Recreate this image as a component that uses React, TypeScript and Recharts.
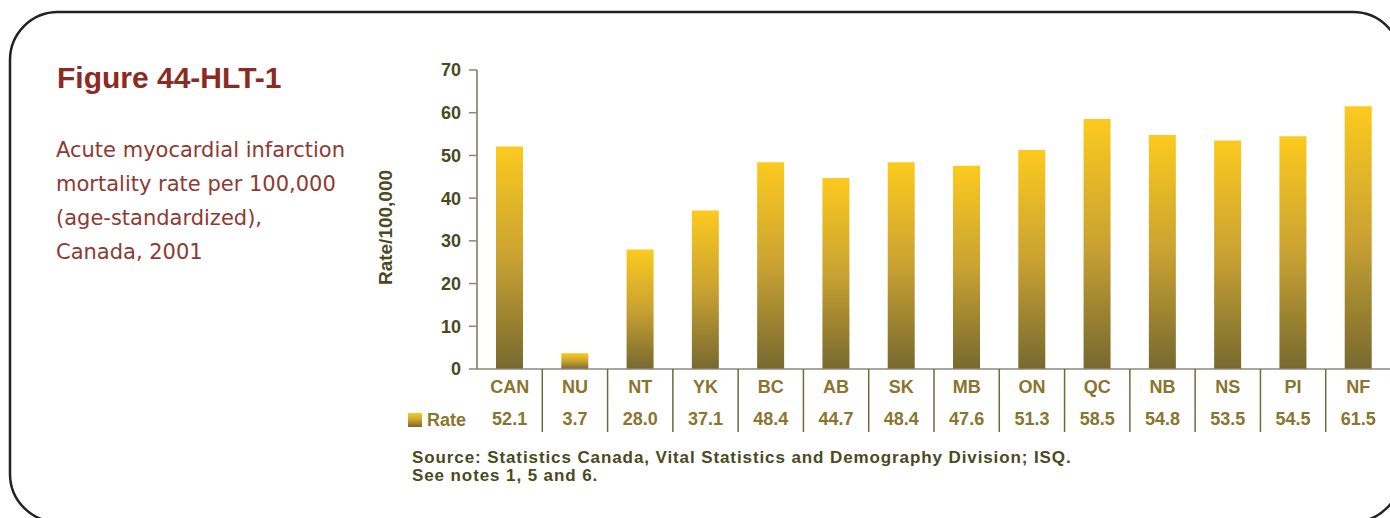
import React from 'react'
import { Bar, BarChart, Legend, XAxis, YAxis } from 'recharts'

// provinces / territories and the age-standardized rate per 100,000
const regions = ['CAN', 'NU', 'NT', 'YK', 'BC', 'AB', 'SK', 'MB', 'ON', 'QC', 'NB', 'NS', 'PI', 'NF']
const rates = [52.1, 3.7, 28.0, 37.1, 48.4, 44.7, 48.4, 47.6, 51.3, 58.5, 54.8, 53.5, 54.5, 61.5]
const yTicks = [0, 10, 20, 30, 40, 50, 60, 70]
const subtitleLines = [
  'Acute myocardial infarction',
  'mortality rate per 100,000',
  '(age-standardized),',
  'Canada, 2001'
]
const sourceLines = [
  'Source: Statistics Canada, Vital Statistics and Demography Division; ISQ.',
  'See notes 1, 5 and 6.'
]

const data = regions.map((region, i) => ({ region, rate: rates[i] }))

const W = 1390
const H = 518
const Y_AXIS_W = 60
const PLOT_LEFT = 477
const X_AXIS_H = 63
const MARGIN = { top: 70, right: -1, bottom: 149 - X_AXIS_H, left: PLOT_LEFT - Y_AXIS_W }
const BAND = (W - PLOT_LEFT - MARGIN.right) / regions.length

const BOLD = '"Liberation Sans", Arial, sans-serif'
const GOLD = '#8a742e'
const OLIVE = '#4a4a1e'
const RED = '#8b2b24'

const TableTick = (props: any) => {
  const { x, y, payload } = props
  const v = rates[payload.index]
  return (
    <g>
      <text x={x} y={y + 24} textAnchor="middle" fill={GOLD} fontSize={18} fontWeight="bold" fontFamily={BOLD}>
        {payload.value}
      </text>
      <text x={x} y={y + 56} textAnchor="middle" fill={GOLD} fontSize={18} fontWeight="bold" fontFamily={BOLD}>
        {v.toFixed(1)}
      </text>
      <line x1={x + BAND / 2} x2={x + BAND / 2} y1={y} y2={y + 63} stroke="#6b6b3e" strokeWidth={1.5} />
    </g>
  )
}

const RateLegend = () => (
  <div style={{ display: 'flex', alignItems: 'center', fontFamily: BOLD }}>
    <div
      style={{
        width: 14,
        height: 14,
        background: 'linear-gradient(#fcca1e, #c9a232 50%, #77692f)',
        marginRight: 5
      }}
    />
    <span style={{ color: GOLD, fontSize: 18, fontWeight: 'bold', lineHeight: '18px' }}>Rate</span>
  </div>
)

const App: React.FC = () => {
  return (
    <div style={{ position: 'absolute', left: 0, top: 0, width: W, height: H, overflow: 'hidden', background: '#fff' }}>
      <BarChart width={W} height={H} data={data} margin={MARGIN} style={{ fontFamily: BOLD }}>
        <defs>
          <linearGradient id="barGrad" x1="0" y1="0" x2="0" y2="1">
            <stop offset="0%" stopColor="#fcca1e" />
            <stop offset="50%" stopColor="#c9a232" />
            <stop offset="100%" stopColor="#77692f" />
          </linearGradient>
        </defs>
        <XAxis
          dataKey="region"
          height={X_AXIS_H}
          tickLine={false}
          tickSize={0}
          tickMargin={0}
          axisLine={{ stroke: '#8a8a78', strokeWidth: 1.5 }}
          tick={<TableTick />}
          interval={0}
        />
        <YAxis
          width={Y_AXIS_W}
          domain={[0, 70]}
          ticks={yTicks}
          interval={0}
          tickSize={8}
          tickMargin={8}
          axisLine={{ stroke: '#77775a', strokeWidth: 1.5 }}
          tickLine={{ stroke: '#8a8a70', strokeWidth: 1.5 }}
          tick={{ fill: OLIVE, fontSize: 18, fontWeight: 'bold', fontFamily: BOLD }}
          label={(p: any) => {
            const vb = p.viewBox
            const cx = vb.x - 32
            const cy = vb.y + vb.height / 2 + 8
            return (
              <text
                x={cx}
                y={cy}
                transform={`rotate(-90, ${cx}, ${cy})`}
                textAnchor="middle"
                dominantBaseline="central"
                fill={OLIVE}
                fontSize={19}
                fontWeight="bold"
                fontFamily={BOLD}
              >
                Rate/100,000
              </text>
            )
          }}
        />
        <Legend
          verticalAlign="middle"
          align="center"
          layout="horizontal"
          content={<RateLegend />}
          wrapperStyle={{ left: 408, top: 411, width: 70, height: 18 }}
        />
        <Bar dataKey="rate" name="Rate" fill="url(#barGrad)" barSize={27} isAnimationActive={false} />
      </BarChart>
      <svg
        width={W}
        height={H}
        style={{ position: 'absolute', left: 0, top: 0, pointerEvents: 'none' }}
      >
        <rect x={10} y={12} width={1391} height={510} rx={48} ry={48} fill="none" stroke="#222" strokeWidth={2.5} />
        <text x={57} y={88} fill={RED} fontSize={30} fontWeight="bold" fontFamily={BOLD}>
          Figure 44-HLT-1
        </text>
        {subtitleLines.map((line, i) => (
          <text key={line} x={56} y={157 + i * 34} fill="#8e3a32" fontSize={21} fontFamily='"DejaVu Sans", sans-serif'>
            {line}
          </text>
        ))}
        {sourceLines.map((line, i) => (
          <text
            key={line}
            x={412}
            y={463 + i * 18}
            fill={OLIVE}
            fontSize={17}
            letterSpacing={0.9}
            fontWeight="bold"
            fontFamily={BOLD}
          >
            {line}
          </text>
        ))}
      </svg>
    </div>
  )
}

export default App
